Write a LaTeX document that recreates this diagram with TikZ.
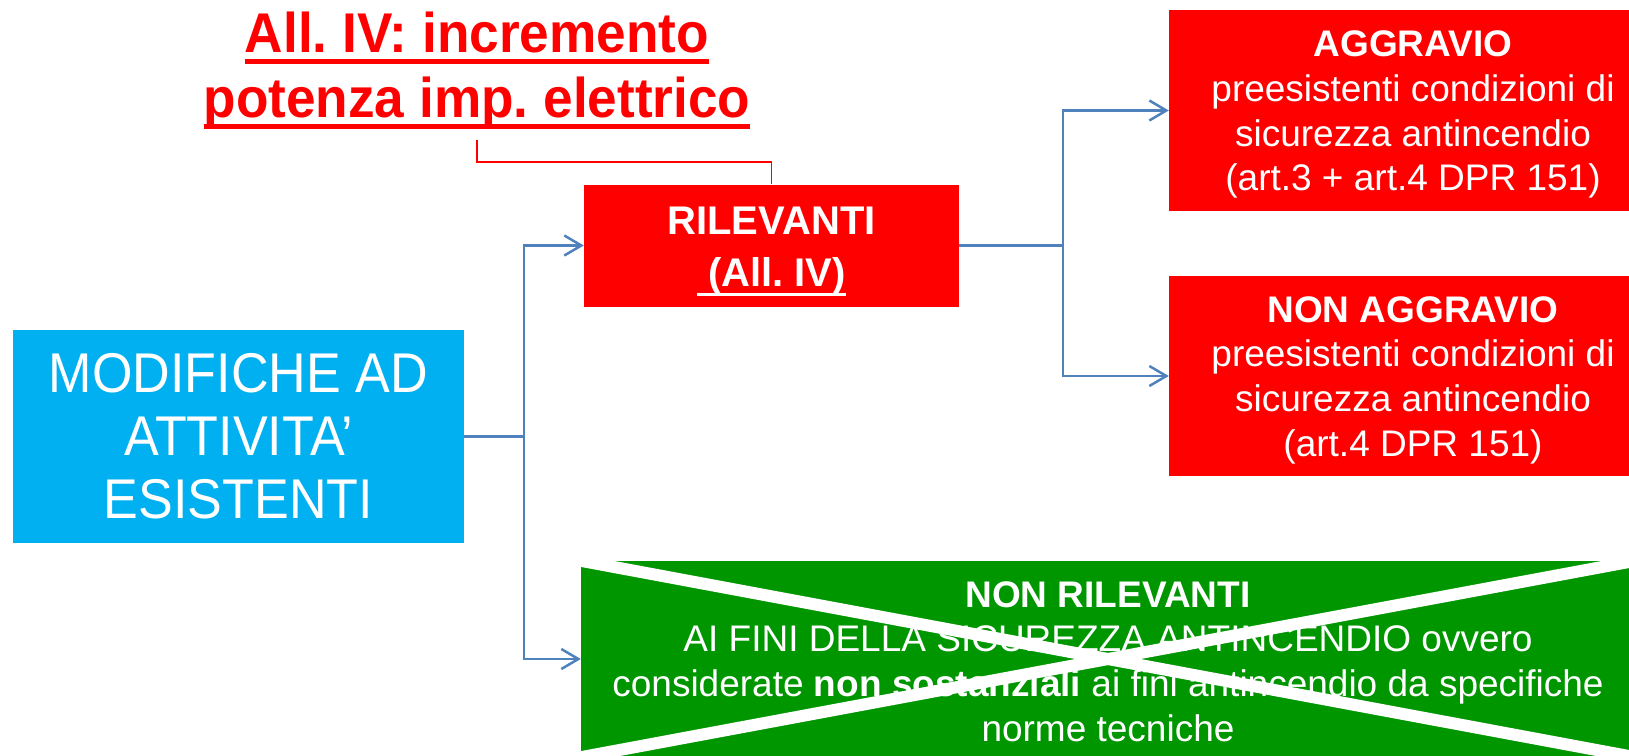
\documentclass[tikz,border=0pt]{standalone}
\usepackage{fontspec}
\setmainfont{Liberation Sans}
\newfontfamily\narrowsans{Liberation Sans}[FakeStretch=0.93]
\newfontfamily\titlesans{Liberation Sans}[FakeStretch=0.95]
\usetikzlibrary{arrows.meta}
\definecolor{boxred}{RGB}{255,0,0}
\definecolor{boxblue}{RGB}{0,176,240}
\definecolor{boxgreen}{RGB}{0,150,0}
\definecolor{linkblue}{RGB}{79,129,189}
\newcommand{\ulbox}[3]{\leavevmode\setbox0\hbox{#3}\rlap{\raisebox{-#1}{\rule{\wd0}{#2}}}\box0}
\frenchspacing
\begin{document}
\begin{tikzpicture}[x=1pt,y=-1pt,
box/.style={rectangle, inner sep=0pt, align=center, text=white},
smalltext/.style={font=\fontsize{37}{44.7}\selectfont},
link/.style={draw=linkblue, line width=2.5pt, -{Straight Barb[length=17pt,width=20pt]}},
redlink/.style={draw=boxred, line width=1.5pt},
crossline/.style={draw=white, line width=12pt}]
\useasboundingbox (0,0) rectangle (1629,755);
\node[box, text=boxred, font=\titlesans\bfseries\fontsize{56}{65}\selectfont] (title) at (477,71){\ulbox{11pt}{5pt}{All. IV: incremento}\\\ulbox{11pt}{5pt}{potenza imp. elettrico}};
\coordinate (titlefoot) at (477,140);
\node[box, fill=boxblue, minimum width=451, minimum height=213, font=\narrowsans\fontsize{56}{63}\selectfont] (mod) at (238.5,436.5){MODIFICHE AD\\ATTIVITA’\\ESISTENTI};
\node[box, fill=boxred, minimum width=375, minimum height=122, font=\bfseries\fontsize{40}{52}\selectfont] (ril) at (771.5,245.5){\rule{0pt}{39pt}RILEVANTI\\\ulbox{9pt}{3pt}{\ (All. IV)}};
\node[box, smalltext, fill=boxred, minimum width=488, minimum height=201] (agg) at (1413,110.5){\rule{0pt}{34pt}\textbf{AGGRAVIO}\\preesistenti condizioni di\\sicurezza antincendio\\(art.3 + art.4 DPR 151)};
\node[box, smalltext, fill=boxred, minimum width=488, minimum height=200] (nagg) at (1413,376){\rule{0pt}{34pt}\textbf{NON AGGRAVIO}\\preesistenti condizioni di\\sicurezza antincendio\\(art.4 DPR 151)};
\node[box, smalltext, fill=boxgreen, minimum width=1054, minimum height=196] (nril) at (1108,659){\rule{0pt}{31pt}\textbf{NON RILEVANTI}\\AI FINI DELLA SICUREZZA ANTINCENDIO ovvero\\considerate \textbf{non sostanziali} ai fini antincendio da specifiche\\norme tecniche};
\begin{scope}
\clip (nril.north west) rectangle (nril.south east);
\draw[crossline] (nril.north west) -- (nril.south east);
\draw[crossline] (nril.north east) -- (nril.south west);
\end{scope}
\draw[redlink] (titlefoot) -- ++(0,22) -| (ril.north);
\draw[link] (mod.east) -- ++(60,0) |- (ril.west);
\draw[link] (mod.east) -- ++(60,0) |- (nril.west);
\draw[link] (ril.east) -- ++(104,0) |- (agg.west);
\draw[link] (ril.east) -- ++(104,0) |- (nagg.west);
\end{tikzpicture}
\end{document}
